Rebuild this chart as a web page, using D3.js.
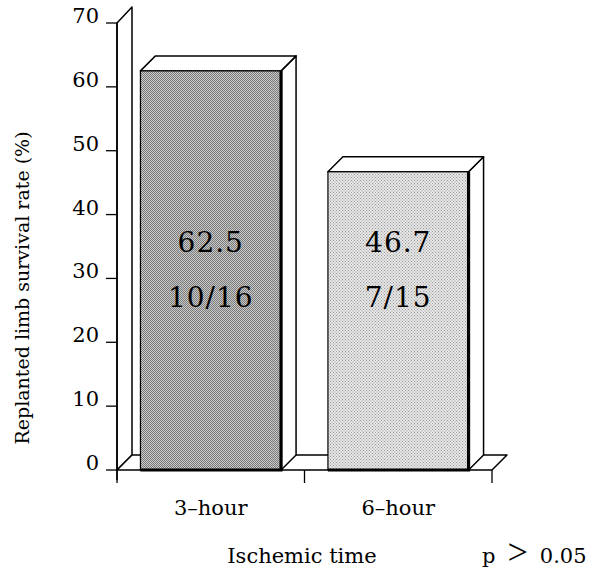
<!DOCTYPE html>
<html>
<head>
<meta charset="utf-8">
<script src="https://cdn.jsdelivr.net/npm/d3@7"></script>
<style>
  html, body { margin: 0; padding: 0; background: #fff; }
  svg text { font-family: "DejaVu Serif", "Liberation Serif", serif; fill: #000; }
</style>
</head>
<body>
<svg id="chart" width="594" height="571"></svg>
<script>
// Replanted limb survival by ischemic time
const categories = ["3–hour", "6–hour"];
const survivalRates = [62.5, 46.7];
const survivalCounts = ["10/16", "7/15"];
const yTicks = [0, 10, 20, 30, 40, 50, 60, 70];
const yTitle = "Replanted limb survival rate (%)";
const xTitle = "Ischemic time";
const pParts = ["p", ">", "0.05"];

const svg = d3.select("#chart");
const depth = 15;                       // oblique offset of the 3-D faces
const x0 = 117, x1 = 492;               // floor / x-axis extent
const y = d3.scaleLinear().domain([0, 70]).range([470, 23]);
const x = d3.scaleBand().domain(categories).range([x0, x1]).paddingInner(0).paddingOuter(0);
const barW = x.bandwidth() * 0.75;

// halftone-like fills
const defs = svg.append("defs");
function dotPattern(id, bg, dot, size) {
  const p = defs.append("pattern").attr("id", id).attr("patternUnits", "userSpaceOnUse")
    .attr("width", size).attr("height", size);
  p.append("rect").attr("width", size).attr("height", size).attr("fill", bg);
  p.append("rect").attr("width", 1).attr("height", 1).attr("fill", dot);
  p.append("rect").attr("x", size / 2).attr("y", size / 2).attr("width", 1).attr("height", 1).attr("fill", dot);
}
dotPattern("fillDark", "#c9c9c9", "#7a7a7a", 2);
dotPattern("fillLight", "#e6e6e6", "#9a9a9a", 3);
const fills = ["url(#fillDark)", "url(#fillLight)"];

const g = svg.append("g");
const line = d3.line();

// left wall panel
g.append("path")
  .attr("d", line([[x0, y(0)], [x0, y(70)], [x0 + depth, y(70) - depth - 1], [x0 + depth, y(0) - depth], [x0, y(0)]]))
  .attr("fill", "#fff").attr("stroke", "#000").attr("stroke-width", 1.5).attr("stroke-linejoin", "round");

// floor
g.append("path")
  .attr("d", line([[x0, y(0)], [x0 + depth, y(0) - depth], [x1 + depth, y(0) - depth], [x1, y(0)]]) + "Z")
  .attr("fill", "#fff").attr("stroke", "#000").attr("stroke-width", 1.5).attr("stroke-linejoin", "round");

// bars
const bars = g.selectAll("g.bar").data(categories).join("g").attr("class", "bar");
bars.each(function (c, i) {
  const b = d3.select(this);
  const left = x(c) + (x.bandwidth() - barW) / 2;
  const right = left + barW;
  const top = y(survivalRates[i]);
  const base = y(0);
  // side face
  b.append("path")
    .attr("d", line([[right, base], [right, top], [right + depth, top - depth], [right + depth, base - depth]]) + "Z")
    .attr("fill", "#fff").attr("stroke", "#000").attr("stroke-width", 1.5).attr("stroke-linejoin", "round");
  // top face
  b.append("path")
    .attr("d", line([[left, top], [left + depth, top - depth], [right + depth, top - depth], [right, top]]) + "Z")
    .attr("fill", "#fff").attr("stroke", "#000").attr("stroke-width", 1.5).attr("stroke-linejoin", "round");
  // front face
  b.append("rect")
    .attr("x", left).attr("y", top).attr("width", barW).attr("height", base - top)
    .attr("fill", fills[i]).attr("stroke", "#000").attr("stroke-width", 1.2);
  // heavy right and bottom edges
  b.append("path")
    .attr("d", line([[left, base], [right, base], [right, top]]))
    .attr("fill", "none").attr("stroke", "#000").attr("stroke-width", 3.2);
  // value and count labels
  const cx = left + barW / 2;
  b.append("text").attr("x", cx).attr("y", 252).attr("text-anchor", "middle")
    .attr("font-size", 28).attr("letter-spacing", 1).text(survivalRates[i].toFixed(1));
  b.append("text").attr("x", cx).attr("y", 307).attr("text-anchor", "middle")
    .attr("font-size", 28).attr("letter-spacing", 1).text(survivalCounts[i]);
});

// y axis line and ticks
g.append("line").attr("x1", x0).attr("x2", x0).attr("y1", y(70)).attr("y2", y(0) + 10)
  .attr("stroke", "#000").attr("stroke-width", 1.5);
const yt = g.selectAll("g.ytick").data(yTicks).join("g").attr("class", "ytick")
  .attr("transform", d => `translate(0,${y(d)})`);
yt.append("line").attr("x1", x0 - 11).attr("x2", x0).attr("stroke", "#000").attr("stroke-width", 1.3);
yt.append("text").attr("x", 99).attr("y", 0).attr("text-anchor", "end").attr("font-size", 21)
  .text(d => d);

// x axis ticks and labels
const xTickPos = [x0, ...categories.map(c => x(c) + x.bandwidth())];
g.selectAll("line.xtick").data(xTickPos).join("line").attr("class", "xtick")
  .attr("x1", d => d).attr("x2", d => d).attr("y1", y(0)).attr("y2", y(0) + 13)
  .attr("stroke", "#000").attr("stroke-width", 1.3);
g.selectAll("text.xlabel").data(categories).join("text").attr("class", "xlabel")
  .attr("x", d => x(d) + x.bandwidth() / 2).attr("y", 515).attr("text-anchor", "middle")
  .attr("font-size", 21).text(d => d);

// titles
svg.append("text").attr("transform", "translate(29,288) rotate(-90)")
  .attr("text-anchor", "middle").attr("font-size", 19).text(yTitle);
svg.append("text").attr("x", 302).attr("y", 563).attr("text-anchor", "middle")
  .attr("font-size", 21).text(xTitle);
const pText = svg.append("text").attr("x", 482).attr("y", 563).attr("font-size", 21);
pText.append("tspan").text(pParts[0]);
pText.append("tspan").attr("dx", 12).attr("dy", 1)
  .style("font-family", "'Liberation Serif', serif").attr("font-size", 36).text(pParts[1]);
pText.append("tspan").attr("dx", 12).attr("dy", -1).text(pParts[2]);
</script>
</body>
</html>
